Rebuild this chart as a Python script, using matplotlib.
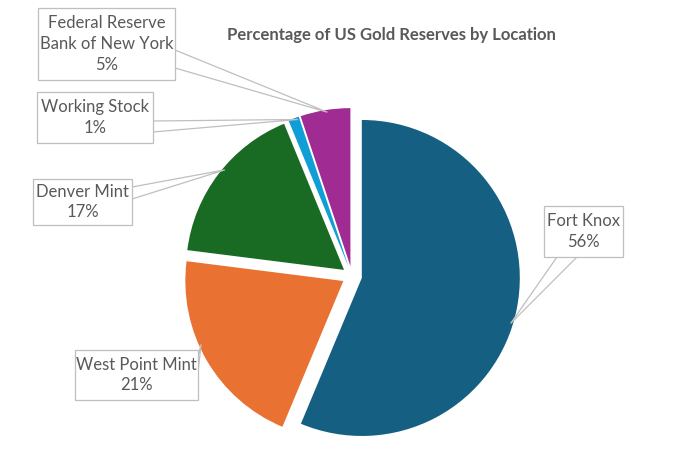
import numpy as np
import matplotlib.pyplot as plt
from matplotlib.patches import Polygon, Rectangle

# data
locations = ["Fort Knox", "West Point Mint", "Denver Mint", "Working Stock",
             "Federal Reserve\nBank of New York"]
shares = [56.3, 20.7, 16.8, 1.1, 5.1]
colors = ["#156082", "#E97132", "#196B24", "#0F9ED5", "#A02B93"]

# label layout (pixel coords, y from top): box (left, top, right, bottom),
# two base points of the leader on the box edge, angle of the leader tip
boxes = [(544, 206, 623, 257), (75, 350, 198, 400), (33, 179, 132, 225),
         (37, 92, 153, 143), (38, 8, 175, 80)]
bases = [((557, 257), (577, 257)), ((198, 356), (198, 372)),
         ((132, 187), (132, 199)), ((153, 121), (153, 132)),
         ((175, 50), (175, 68))]
tip_angles = [-17, -156, 140, 109, 98.5]

W, H = 681, 470
text_col = "#595959"
edge_col = "#BFBFBF"

fig = plt.figure(figsize=(W / 100, H / 100), dpi=100)
ax = fig.add_axes([0, 0, 1, 1])

# explode is in data units (pixels here)
wedges, _ = ax.pie(shares, colors=colors, startangle=90, counterclock=False,
                   explode=[10] * len(shares), center=(352, H - 276), radius=158,
                   wedgeprops=dict(linewidth=0))

ax.set_xlim(0, W)
ax.set_ylim(0, H)
ax.set_aspect("equal")
ax.axis("off")

for w, label, val, box, base, ang in zip(wedges, locations, shares, boxes, bases, tip_angles):
    cx, cy = w.center
    a = np.deg2rad(ang)
    tip = (cx + 0.985 * w.r * np.cos(a), cy + 0.985 * w.r * np.sin(a))
    pts = [(base[0][0], H - base[0][1]), tip, (base[1][0], H - base[1][1])]
    ax.add_patch(Polygon(pts, closed=True, facecolor="white", edgecolor=edge_col,
                         linewidth=0.9, zorder=3))
    l, t, r, b = box
    ax.add_patch(Rectangle((l, H - b), r - l, b - t, facecolor="white",
                           edgecolor=edge_col, linewidth=0.9, zorder=4))
    ax.text((l + r) / 2, H - (t + b) / 2, f"{label}\n{val:.0f}%", ha="center", va="center",
            fontsize=12, family="Lato", color=text_col, linespacing=1.38, zorder=5)

ax.text(391, H - 35, "Percentage of US Gold Reserves by Location", ha="center", va="center",
        fontsize=12, family="Lato", fontweight="bold", color=text_col)

fig.savefig("out.png", dpi=100, facecolor="white")
